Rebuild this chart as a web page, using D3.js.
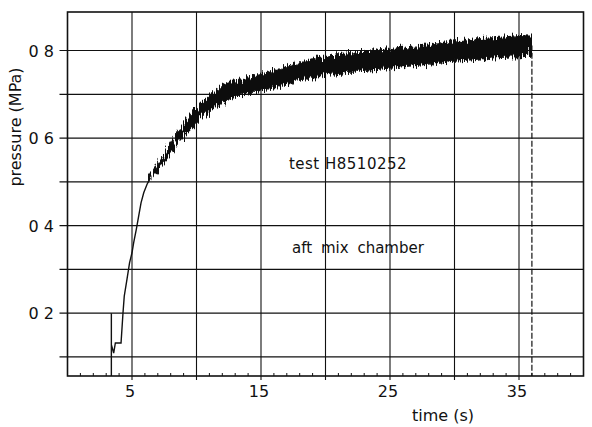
<!DOCTYPE html>
<html>
<head>
<meta charset="utf-8">
<script src="https://cdn.jsdelivr.net/npm/d3@7/dist/d3.min.js"></script>
<style>
  html, body { margin: 0; padding: 0; background: #fff; }
  svg { display: block; }
  text { font-family: "DejaVu Sans", sans-serif; fill: #111; }
</style>
</head>
<body>
<svg id="chart" width="592" height="427"></svg>
<script>
// ---- data ----
const xTicks = [5, 15, 25, 35];
const xTickLabels = ["5", "15", "25", "35"];
const xGrid = [5, 10, 15, 20, 25, 30, 35];
const xMinor = d3.range(1, 40, 1);
const yGrid = [0.1, 0.2, 0.3, 0.4, 0.5, 0.6, 0.7, 0.8];
const yTicks = [0.2, 0.4, 0.6, 0.8];
const yTickLabels = ["0 2", "0 4", "0 6", "0 8"];

// initial transient (single trace)
const startT = [3.40, 3.40, 3.40, 3.58, 3.71, 4.15, 4.30, 4.40, 4.61, 4.81, 5.00, 5.13, 5.33, 5.52, 5.70, 5.91, 6.16, 6.42];
const startP = [0.00, 0.200, 0.128, 0.109, 0.132, 0.132, 0.200, 0.239, 0.277, 0.315, 0.338, 0.361, 0.391, 0.422, 0.452, 0.475, 0.494, 0.509];

// noisy band: lower / upper envelope of the dense core
const bandT    = [6.4, 7.0, 7.5, 8.0, 8.5, 9.0, 9.5, 10.0, 10.5, 11.0, 11.5, 12.0, 12.5, 13.0, 13.5, 14.0, 14.5, 15.0, 15.5, 16.0, 16.5, 17.0, 17.5, 18.0, 18.5, 19.0, 19.5, 20, 21, 22, 23, 24, 25, 26, 27, 28, 29, 30, 31, 32, 33, 34, 35, 35.9];
const bandLow  = [0.505, 0.528, 0.548, 0.567, 0.588, 0.604, 0.619, 0.635, 0.648, 0.660, 0.672, 0.682, 0.689, 0.694, 0.697, 0.701, 0.705, 0.708, 0.712, 0.716, 0.720, 0.724, 0.728, 0.732, 0.735, 0.738, 0.741, 0.745, 0.748, 0.751, 0.755, 0.757, 0.760, 0.763, 0.766, 0.769, 0.772, 0.776, 0.778, 0.781, 0.783, 0.785, 0.786, 0.787];
const bandHigh = [0.513, 0.542, 0.564, 0.589, 0.612, 0.632, 0.649, 0.669, 0.682, 0.696, 0.708, 0.718, 0.725, 0.730, 0.735, 0.739, 0.743, 0.746, 0.750, 0.754, 0.758, 0.764, 0.768, 0.772, 0.775, 0.780, 0.783, 0.787, 0.790, 0.793, 0.797, 0.801, 0.804, 0.807, 0.810, 0.813, 0.818, 0.822, 0.824, 0.827, 0.829, 0.831, 0.834, 0.833];

// end of the record (drop to zero)
const endT = [35.9, 36.0, 36.0];
const endP = [0.810, 0.810, 0.00];

// ---- layout ----
const svg = d3.select("#chart");
const x = d3.scaleLinear().domain([0, 40]).range([67.5, 583.5]);
const y = d3.scaleLinear().domain([0.0565, 0.888]).range([376, 12]);
const L = x(0), R = x(40), T = y(0.888), B = y(0.0565);
const ink = "#111";

const defs = svg.append("defs");
defs.append("clipPath").attr("id", "plot")
  .append("rect").attr("x", L).attr("y", T).attr("width", R - L).attr("height", B - T);
const rough = defs.append("filter").attr("id", "rough")
  .attr("x", "-2%").attr("y", "-30%").attr("width", "104%").attr("height", "160%");
rough.append("feTurbulence").attr("type", "fractalNoise")
  .attr("baseFrequency", "0.9 0.03").attr("numOctaves", 2).attr("seed", 4).attr("result", "n");
rough.append("feDisplacementMap").attr("in", "SourceGraphic").attr("in2", "n")
  .attr("scale", 14).attr("xChannelSelector", "B").attr("yChannelSelector", "R");

// grid
svg.append("g").selectAll("line").data(yGrid).join("line")
  .attr("x1", L - 8).attr("x2", R)
  .attr("y1", d => y(d)).attr("y2", d => y(d))
  .attr("stroke", ink).attr("stroke-width", 1.2);
svg.append("g").selectAll("line").data(xGrid).join("line")
  .attr("x1", d => x(d)).attr("x2", d => x(d))
  .attr("y1", T).attr("y2", B + 4)
  .attr("stroke", ink).attr("stroke-width", 1.1);

// minor ticks on bottom axis (inward)
svg.append("g").selectAll("line").data(xMinor.filter(d => d % 5 !== 0)).join("line")
  .attr("x1", d => x(d)).attr("x2", d => x(d))
  .attr("y1", B).attr("y2", B - 3)
  .attr("stroke", ink).attr("stroke-width", 1);

// frame
svg.append("rect").attr("x", L).attr("y", T).attr("width", R - L).attr("height", B - T)
  .attr("fill", "none").attr("stroke", ink).attr("stroke-width", 1.6);

// data
const g = svg.append("g").attr("clip-path", "url(#plot)");
const line = d3.line().x(d => x(d[0])).y(d => y(d[1]));
g.append("path")
  .attr("d", line(startT.map((t, i) => [t, startP[i]])))
  .attr("fill", "none").attr("stroke", ink).attr("stroke-width", 1.4);

const area = d3.area().x(d => x(d.t)).y0(d => y(d.lo)).y1(d => y(d.hi));
g.append("g").attr("filter", "url(#rough)")
  .append("path")
  .attr("d", area(bandT.map((t, i) => ({ t, lo: bandLow[i], hi: bandHigh[i] }))))
  .attr("fill", ink).attr("stroke", ink).attr("stroke-width", 1.2);

g.append("path")
  .attr("d", line(endT.map((t, i) => [t, endP[i]])))
  .attr("fill", "none").attr("stroke", ink).attr("stroke-width", 1.2)
  .attr("stroke-dasharray", "6,2");

// tick labels
svg.append("g").selectAll("text").data(yTicks).join("text")
  .attr("x", 54).attr("y", d => y(d) + 6)
  .attr("text-anchor", "end").attr("font-size", 16)
  .text((d, i) => yTickLabels[i]);
svg.append("g").selectAll("text").data(xTicks).join("text")
  .attr("x", d => x(d) - 2).attr("y", 397)
  .attr("text-anchor", "middle").attr("font-size", 16)
  .text((d, i) => xTickLabels[i]);

// axis titles
svg.append("text").attr("x", 443).attr("y", 421)
  .attr("text-anchor", "middle").attr("font-size", 16).text("time (s)");
svg.append("text")
  .attr("transform", "translate(21,127) rotate(-90)")
  .attr("text-anchor", "middle").attr("font-size", 16).text("pressure (MPa)");

// annotations
svg.append("text").attr("x", 348).attr("y", 169)
  .attr("text-anchor", "middle").attr("font-size", 15).attr("letter-spacing", 0.5)
  .text("test H8510252");
svg.append("text").attr("x", 358).attr("y", 253)
  .attr("text-anchor", "middle").attr("font-size", 15).attr("word-spacing", 4)
  .text("aft mix chamber");
</script>
</body>
</html>
